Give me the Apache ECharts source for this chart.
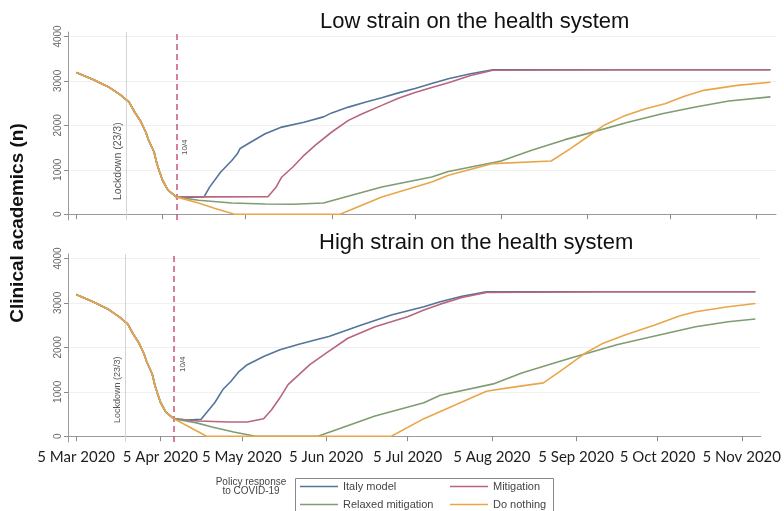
<!DOCTYPE html>
<html>
<head>
<meta charset="utf-8">
<script src="https://cdn.jsdelivr.net/npm/echarts@6/dist/echarts.min.js"></script>
<style>
html,body{margin:0;padding:0;background:#fff;}
#chart{width:784px;height:511px;}
</style>
</head>
<body>
<div id="chart"></div>
<script>
// ---------- DATA ----------
const panelTitles = ['Low strain on the health system', 'High strain on the health system'];
const seriesNames = ['Italy model', 'Mitigation', 'Relaxed mitigation', 'Do nothing'];
const tickDates = ['2020-03-05','2020-04-05','2020-05-05','2020-06-05','2020-07-05','2020-08-05','2020-09-05','2020-10-05','2020-11-05'];
const tickLabels = ['5 Mar 2020','5 Apr 2020','5 May 2020','5 Jun 2020','5 Jul 2020','5 Aug 2020','5 Sep 2020','5 Oct 2020','5 Nov 2020'];
const yTicks = [0, 1000, 2000, 3000, 4000];
const lockdownDate = '2020-03-23';
const policyDate = '2020-04-10';

// common trajectory before the policy response (identical for all scenarios)
const sharedStart = [
  ['2020-03-05',3190],['2020-03-11',3030],['2020-03-17',2850],['2020-03-21',2680],
  ['2020-03-24',2520],['2020-03-26',2300],['2020-03-28',2110],['2020-03-30',1850],
  ['2020-03-31',1670],['2020-04-02',1400],['2020-04-03',1140],['2020-04-04',950],
  ['2020-04-05',770],['2020-04-07',540],['2020-04-10',390]
];

// Low strain
const lowItaly = [['2020-04-15',385],['2020-04-20',390],['2020-04-22',610],['2020-04-26',950],['2020-04-30',1210],
  ['2020-05-02',1360],['2020-05-03',1480],['2020-05-06',1590],['2020-05-12',1810],['2020-05-18',1960],
  ['2020-05-26',2070],['2020-06-02',2190],['2020-06-05',2280],['2020-06-11',2410],['2020-06-17',2520],
  ['2020-06-23',2620],['2020-06-29',2730],['2020-07-05',2830],['2020-07-11',2940],['2020-07-17',3050],
  ['2020-07-25',3160],['2020-08-02',3250],['2020-09-15',3250],['2020-11-10',3250]];
const lowMitigation = [['2020-04-20',390],['2020-05-13',395],['2020-05-16',613],['2020-05-18',838],
  ['2020-05-22',1063],['2020-05-26',1326],['2020-05-30',1551],['2020-06-05',1850],['2020-06-11',2112],
  ['2020-06-16',2262],['2020-06-23',2449],['2020-06-29',2610],['2020-07-05',2740],['2020-07-11',2850],
  ['2020-07-17',2960],['2020-07-25',3120],['2020-08-02',3240],['2020-09-15',3250],['2020-11-10',3250]];
const lowRelaxed = [['2020-04-18',315],['2020-04-30',254],['2020-05-12',231],['2020-05-22',225],
  ['2020-06-02',254],['2020-06-23',614],['2020-07-11',838],['2020-07-17',960],['2020-08-05',1198],
  ['2020-08-16',1438],['2020-08-28',1678],['2020-09-05',1813],['2020-09-20',2075],['2020-10-02',2262],
  ['2020-10-14',2412],['2020-10-26',2547],['2020-11-10',2640]];
const lowNothing = [['2020-04-18',254],['2020-04-24',127],['2020-05-01',0],['2020-06-08',0],
  ['2020-06-23',389],['2020-07-11',726],['2020-07-17',876],['2020-08-02',1139],['2020-08-23',1198],
  ['2020-08-30',1476],['2020-09-05',1737],['2020-09-11',2000],['2020-09-18',2202],['2020-09-26',2375],
  ['2020-10-03',2487],['2020-10-10',2652],['2020-10-17',2787],['2020-10-29',2899],['2020-11-10',2970]];

// High strain
const highItaly = [['2020-04-15',365],['2020-04-20',380],['2020-04-25',753],['2020-04-28',1050],
  ['2020-05-01',1236],['2020-05-04',1460],['2020-05-07',1609],['2020-05-13',1795],['2020-05-19',1944],
  ['2020-05-26',2071],['2020-06-02',2183],['2020-06-06',2242],['2020-06-18',2503],['2020-06-29',2726],
  ['2020-07-11',2912],['2020-07-17',3024],['2020-07-25',3150],['2020-08-03',3247],['2020-09-15',3250],['2020-11-10',3250]];
const highMitigation = [['2020-04-19',342],['2020-04-30',320],['2020-05-07',320],['2020-05-13',395],
  ['2020-05-16',603],['2020-05-19',864],['2020-05-22',1162],['2020-05-26',1385],['2020-05-30',1609],
  ['2020-06-05',1870],['2020-06-13',2205],['2020-06-23',2465],['2020-07-05',2689],['2020-07-11',2838],
  ['2020-07-17',2972],['2020-07-25',3120],['2020-08-03',3233],['2020-09-15',3250],['2020-11-10',3250]];
const highRelaxed = [['2020-04-18',306],['2020-04-24',208],['2020-05-02',96],['2020-05-10',0],
  ['2020-06-02',0],['2020-06-23',454],['2020-07-11',753],['2020-07-17',923],['2020-08-06',1184],
  ['2020-08-16',1423],['2020-08-28',1647],['2020-09-05',1795],['2020-09-20',2056],['2020-10-04',2257],
  ['2020-10-19',2465],['2020-10-31',2577],['2020-11-10',2637]];
const highNothing = [['2020-04-15',231],['2020-04-22',0],['2020-06-29',0],['2020-07-11',395],
  ['2020-08-03',1013],['2020-08-11',1088],['2020-08-24',1200],['2020-08-31',1497],['2020-09-08',1855],
  ['2020-09-15',2094],['2020-09-23',2279],['2020-10-04',2503],['2020-10-13',2704],['2020-10-19',2800],
  ['2020-10-31',2912],['2020-11-10',2988]];

// ---------- STYLE / BUILD ----------
const colors = ['#54749a', '#b8657f', '#7f9c72', '#e9a649'];
const baseFont = '"Liberation Sans", Arial, sans-serif';
const ts = d => echarts.time.parse(d).getTime();
const chart = echarts.init(document.getElementById('chart'), null, {renderer: 'canvas'});
const tickTs = tickDates.map(ts);
const grids = [
  {left: 68, right: 8, top: 32, height: 188},
  {left: 68, right: 8, top: 254, height: 188}
];

function xAxisFor(i, showLabels) {
  return {
    type: 'value', gridIndex: i, min: ts('2020-03-02'), max: ts('2020-11-12'),
    axisLine: {lineStyle: {color: '#9a9a9a', width: 1}},
    axisTick: {show: true, customValues: tickTs, length: 5, lineStyle: {color: '#8a8a8a'}},
    axisLabel: {
      show: showLabels, customValues: tickTs, margin: 8,
      fontFamily: 'Lato, "Open Sans", sans-serif', fontSize: 15, color: '#1e1e1e',
      formatter: function (v) {
        let best = 0, bd = Infinity;
        tickTs.forEach((t, k) => { const d = Math.abs(t - v); if (d < bd) { bd = d; best = k; } });
        return tickLabels[best];
      }
    },
    splitLine: {show: false}
  };
}
function yAxisFor(i) {
  return {
    type: 'value', gridIndex: i, min: -130, max: 4100,
    axisLine: {show: true, lineStyle: {color: '#9a9a9a'}},
    axisTick: {show: true, customValues: yTicks, length: 4, lineStyle: {color: '#8a8a8a'}},
    axisLabel: {customValues: yTicks, rotate: 90, fontSize: 10, color: '#666', margin: 5,
                fontFamily: baseFont, formatter: v => String(Math.round(v))},
    splitLine: {show: true, lineStyle: {color: '#f0f0f0', width: 1}}
  };
}

function markLinesFor(panel) {
  const top = panel === 0;
  return {
    silent: true, symbol: ['none', 'none'], animation: false,
    data: [
      {xAxis: ts(lockdownDate), lineStyle: {color: '#d4d4d4', width: 1, type: 'solid'},
       label: {show: true, formatter: 'Lockdown (23/3)', position: 'insideStartTop',
               distance: [top ? 20 : 19, 3], fontSize: top ? 10.5 : 9, color: '#555', fontFamily: baseFont}},
      {xAxis: ts(policyDate), lineStyle: {color: '#c8557c', width: 1.5, type: [6, 4]},
       label: {show: true, formatter: '10/4', position: 'insideStartBottom',
               distance: [top ? 65 : 70, 5], fontSize: 8, color: '#555', fontFamily: baseFont}}
    ]
  };
}

const panelData = [
  [lowItaly, lowMitigation, lowRelaxed, lowNothing],
  [highItaly, highMitigation, highRelaxed, highNothing]
];
const series = [];
panelData.forEach((arr, p) => {
  arr.forEach((tail, s) => {
    const ser = {
      name: seriesNames[s], type: 'line', xAxisIndex: p, yAxisIndex: p,
      data: sharedStart.concat(tail).map(d => [ts(d[0]), d[1]]),
      showSymbol: false, symbol: 'none',
      lineStyle: {width: 1.6, color: colors[s]}, itemStyle: {color: colors[s]},
      animation: false, z: 2 + s
    };
    if (s === 0) ser.markLine = markLinesFor(p);
    series.push(ser);
  });
});

const legendCommon = {
  orient: 'vertical', top: 481, itemWidth: 38, itemHeight: 1.5, itemGap: 7, icon: 'rect',
  textStyle: {fontSize: 11, color: '#444', fontFamily: baseFont}, padding: 0
};

const option = {
  backgroundColor: '#ffffff',
  textStyle: {fontFamily: baseFont},
  animation: false,
  title: [
    {text: panelTitles[0], left: 320, top: 11, padding: 0,
     textStyle: {fontSize: 22, fontWeight: 'normal', color: '#111', fontFamily: baseFont}},
    {text: panelTitles[1], left: 319, top: 232, padding: 0,
     textStyle: {fontSize: 22, fontWeight: 'normal', color: '#111', fontFamily: baseFont}}
  ],
  grid: grids,
  xAxis: [xAxisFor(0, false), xAxisFor(1, true)],
  yAxis: [yAxisFor(0), yAxisFor(1)],
  legend: [
    Object.assign({data: [seriesNames[0], seriesNames[2]], left: 300}, legendCommon),
    Object.assign({data: [seriesNames[1], seriesNames[3]], left: 450}, legendCommon)
  ],
  graphic: [
    {type: 'text', x: 18, y: 223, rotation: Math.PI / 2,
     style: {text: 'Clinical academics (n)', font: 'bold 19px ' + baseFont, fill: '#111',
             textAlign: 'center', textVerticalAlign: 'middle'}},
    {type: 'text', x: 251, y: 478,
     style: {text: 'Policy response\nto COVID-19', font: '10px ' + baseFont, fill: '#444',
             textAlign: 'center', lineHeight: 9}},
    {type: 'rect', shape: {x: 295.5, y: 478.5, width: 258, height: 60},
     style: {fill: 'none', stroke: '#888', lineWidth: 1}}
  ],
  series: series
};
chart.setOption(option);
</script>
</body>
</html>
